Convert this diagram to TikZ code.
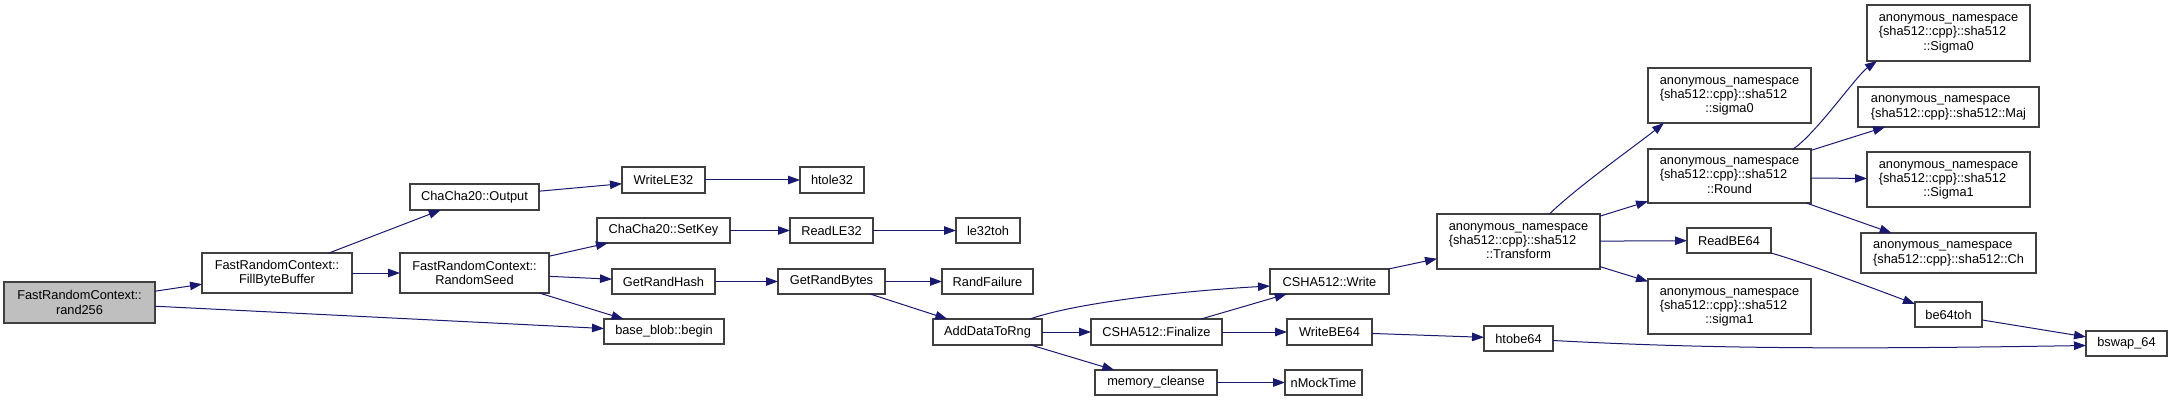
\documentclass[tikz,border=0pt]{standalone}
\usepackage{fontspec}
\setmainfont{Liberation Sans}
\usetikzlibrary{arrows.meta,calc}
\definecolor{edgeblue}{RGB}{25,25,112}
\definecolor{boxline}{RGB}{64,64,64}
\definecolor{rootfill}{RGB}{191,191,191}
\newcommand\anthree[1]{\begin{tabular}{@{}l@{}}anonymous\_namespace\\\{sha512::cpp\}::sha512\\\multicolumn{1}{@{}c@{}}{::#1}\end{tabular}}
\newcommand\antwo[1]{\begin{tabular}{@{}l@{}}anonymous\_namespace\\\{sha512::cpp\}::sha512::#1\end{tabular}}
\tikzset{
  fbox/.style={draw=boxline, line width=1.1pt, fill=white, inner sep=0pt, outer sep=0pt,
    align=center, font=\fontsize{12.8}{14.3}\selectfont},
  edge/.style={draw=edgeblue, line width=1pt, -{Triangle[length=12pt,width=8.5pt,fill=edgeblue]}}
}
\begin{document}
\begin{tikzpicture}[x=1pt,y=-1pt]
\useasboundingbox (0,0) rectangle (2172,401);
% nodes
\node[fbox, fill=rootfill, minimum width=151pt, minimum height=41pt] (rand256) at (79.5,302.5) {FastRandomContext::\\rand256};
\node[fbox, minimum width=150pt, minimum height=40pt] (fbb) at (277,273) {FastRandomContext::\\FillByteBuffer};
\node[fbox, minimum width=129pt, minimum height=26pt] (out) at (474.5,197) {ChaCha20::Output};
\node[fbox, minimum width=149pt, minimum height=40pt] (rs) at (474.5,273) {FastRandomContext::\\RandomSeed};
\node[fbox, minimum width=83pt, minimum height=26pt] (wle) at (663.5,180) {WriteLE32};
\node[fbox, minimum width=64pt, minimum height=26pt] (htole) at (832,180) {htole32};
\node[fbox, minimum width=133pt, minimum height=25pt] (setkey) at (663.5,230.5) {ChaCha20::SetKey};
\node[fbox, minimum width=83pt, minimum height=25pt] (rle) at (831.5,230.5) {ReadLE32};
\node[fbox, minimum width=64pt, minimum height=25pt] (le32toh) at (988,230.5) {le32toh};
\node[fbox, minimum width=103pt, minimum height=25pt] (grh) at (663.5,281.5) {GetRandHash};
\node[fbox, minimum width=107pt, minimum height=25pt] (grb) at (831.5,281.5) {GetRandBytes};
\node[fbox, minimum width=91pt, minimum height=25pt] (rf) at (987.5,281.5) {RandFailure};
\node[fbox, minimum width=120pt, minimum height=25pt] (bb) at (664,331.5) {base\_blob::begin};
\node[fbox, minimum width=109pt, minimum height=26pt] (adr) at (987.5,332) {AddDataToRng};
\node[fbox, minimum width=119pt, minimum height=25pt] (write) at (1329.5,281.5) {CSHA512::Write};
\node[fbox, minimum width=131pt, minimum height=26pt] (fin) at (1156.5,332) {CSHA512::Finalize};
\node[fbox, minimum width=85pt, minimum height=26pt] (wbe) at (1329.5,332) {WriteBE64};
\node[fbox, minimum width=122pt, minimum height=25pt] (mc) at (1156,382.5) {memory\_cleanse};
\node[fbox, minimum width=77pt, minimum height=25pt] (nmt) at (1323.5,382.5) {nMockTime};
\node[fbox, minimum width=69pt, minimum height=25pt] (htobe) at (1518.5,338.5) {htobe64};
\node[fbox, minimum width=163pt, minimum height=55pt] (transform) at (1518.5,241.5) {\anthree{Transform}};
\node[fbox, minimum width=163pt, minimum height=55pt] (sigma0) at (1729.5,95.5) {\anthree{sigma0}};
\node[fbox, minimum width=163pt, minimum height=54pt] (round) at (1729.5,176) {\anthree{Round}};
\node[fbox, minimum width=84pt, minimum height=25pt] (rbe) at (1729,240.5) {ReadBE64};
\node[fbox, minimum width=163pt, minimum height=55pt] (sigma1) at (1729.5,306.5) {\anthree{sigma1}};
\node[fbox, minimum width=163pt, minimum height=56pt] (Sigma0) at (1948.5,33) {\anthree{Sigma0}};
\node[fbox, minimum width=181pt, minimum height=40pt] (Maj) at (1948.5,107) {\antwo{Maj}};
\node[fbox, minimum width=163pt, minimum height=55pt] (Sigma1) at (1948.5,179.5) {\anthree{Sigma1}};
\node[fbox, minimum width=175pt, minimum height=40pt] (Ch) at (1948.5,253) {\antwo{Ch}};
\node[fbox, minimum width=67pt, minimum height=25pt] (be64toh) at (1948.5,314.5) {be64toh};
\node[fbox, minimum width=81pt, minimum height=25pt] (bswap) at (2126.5,343.5) {bswap\_64};
% edges
\draw[edge] (rand256) -- (fbb);
\draw[edge] (rand256) -- (bb);
\draw[edge] (fbb) -- (out);
\draw[edge] (fbb) -- (rs);
\draw[edge] (out) -- (wle);
\draw[edge] (wle) -- (htole);
\draw[edge] (rs) -- (setkey);
\draw[edge] (rs) -- (grh);
\draw[edge] (rs) -- (bb);
\draw[edge] (setkey) -- (rle);
\draw[edge] (rle) -- (le32toh);
\draw[edge] (grh) -- (grb);
\draw[edge] (grb) -- (rf);
\draw[edge] (grb) -- (adr);
\draw[edge] ($(adr.north east)+(-12,0)$) .. controls +(45,-16) and +(-90,5) .. ($(write.west)+(0,4.5)$);
\draw[edge] (adr) -- (fin);
\draw[edge] (adr) -- (mc);
\draw[edge] (fin) -- (write);
\draw[edge] (fin) -- (wbe);
\draw[edge] (wbe) -- (htobe);
\draw[edge] (mc) -- (nmt);
\draw[edge] (write) -- (transform);
\draw[edge] ($(transform.north)+(31,0)$) .. controls +(25,-25) and +(-25,20) .. ($(sigma0.south west)+(16,0)$);
\draw[edge] (transform) -- (round);
\draw[edge] (transform) -- (rbe);
\draw[edge] (transform) -- (sigma1);
\draw[edge] ($(round.north east)+(-18,0)$) .. controls +(22,-14) and +(-20,14) .. ($(Sigma0.south west)+(10,0)$);
\draw[edge] (round) -- (Maj);
\draw[edge] ($(round.east)+(0,2)$) -- ($(Sigma1.west)+(0,-1)$);
\draw[edge] (round) -- (Ch);
\draw[edge] (rbe.south east) .. controls +(35,10) and +(-40,-15) .. ($(be64toh.north west)+(0,2)$);
\draw[edge] (be64toh) -- (bswap);
\draw[edge] ($(htobe.east)+(0,2)$) .. controls +(150,8) and +(-250,4) .. ($(bswap.west)+(0,2)$);
\end{tikzpicture}
\end{document}
